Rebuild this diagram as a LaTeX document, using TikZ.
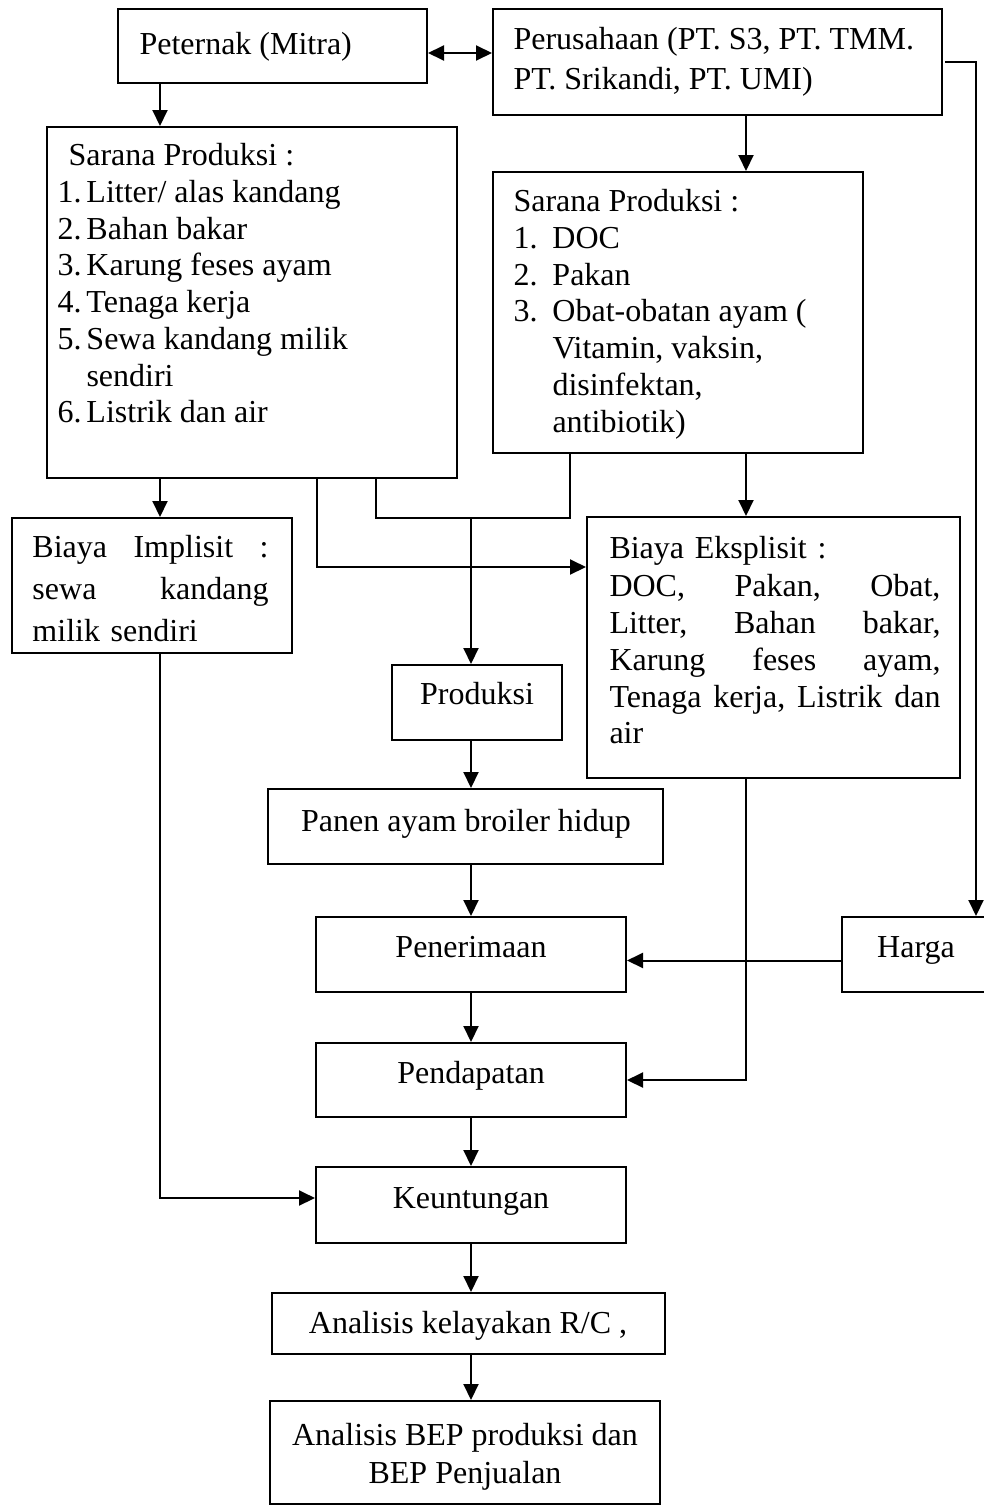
\documentclass[tikz,border=0pt]{standalone}
\usepackage{fontspec}
\setmainfont{Liberation Serif}
\usetikzlibrary{positioning,arrows.meta,fit,calc}

\newcommand{\numL}[1]{\makebox[11.6pt][l]{#1.}}
\newcommand{\numR}[1]{\makebox[15.6pt][l]{#1.}}

\begin{document}
\begin{tikzpicture}[
  x=0.4pt, y=-0.4pt,
  >={Triangle[length=6.4pt,width=6pt]},
  every node/.style={font=\fontsize{12.8}{14.7}\selectfont},
  box/.style={draw, line width=0.8pt, inner sep=0pt},
  txt/.style={inner sep=0pt, align=left},
  ln/.style={line width=0.8pt}
]
\useasboundingbox (0,0) rectangle (983,1506);

% boxes
\node[box, fit={(118,9) (427,83)}] (petr) {};
\node[box, fit={(493,9) (942,115)}] (prsh) {};
\node[box, fit={(47,127) (457,478)}] (sarL) {};
\node[box, fit={(493,172) (863,453)}] (sarR) {};
\node[box, fit={(12,518) (292,653)}] (bImp) {};
\node[box, fit={(587,517) (960,778)}] (bEks) {};
\node[box, fit={(392,665) (562,740)}] (prod) {};
\node[box, fit={(268,789) (663,864)}] (panen) {};
\node[box, fit={(316,917) (626,992)}] (terima) {};
\node[box, fit={(842,917) (992,992)}] (harga) {};
\node[box, fit={(316,1043) (626,1117)}] (dapat) {};
\node[box, fit={(316,1167) (626,1243)}] (untung) {};
\node[box, fit={(272,1293) (665,1354)}] (rc) {};
\node[box, fit={(270,1401) (660,1504)}] (bep) {};

% texts
\node[txt, anchor=base west] (petrT) at (139,54) {Peternak (Mitra)};
\node[txt, anchor=north west, font=\fontsize{12.8}{16}\selectfont] (prshT) at (513,27)
  {Perusahaan (PT. S3, PT. TMM.\\PT. Srikandi, PT. UMI)};
\node[txt, anchor=north west] (sarLT) at (57,143)
  {\hspace*{4.4pt}Sarana Produksi :\\
   \numL{1}Litter/ alas kandang\\
   \numL{2}Bahan bakar\\
   \numL{3}Karung feses ayam\\
   \numL{4}Tenaga kerja\\
   \numL{5}Sewa kandang milik\\
   \hspace*{11.6pt}sendiri\\
   \numL{6}Listrik dan air};
\node[txt, anchor=north west] (sarRT) at (513,189)
  {Sarana Produksi :\\
   \numR{1}DOC\\
   \numR{2}Pakan\\
   \numR{3}Obat-obatan ayam (\\
   \hspace*{15.6pt}Vitamin, vaksin,\\
   \hspace*{15.6pt}disinfektan,\\
   \hspace*{15.6pt}antibiotik)};
\node[txt, anchor=north west, text width=94.4pt, font=\fontsize{12.8}{16.8}\selectfont] (bImpT) at (32,535)
  {Biaya\hfill Implisit\hfill :\\sewa\hfill kandang\\milik sendiri};
\node[txt, anchor=north west, text width=132.4pt] (bEksT) at (609,536)
  {Biaya Eksplisit :\\[0.6pt]
   DOC,\hfill Pakan,\hfill Obat,\\
   Litter,\hfill Bahan\hfill bakar,\\
   Karung\hfill feses\hfill ayam,\\
   Tenaga\hfill kerja,\hfill Listrik\hfill dan\\
   air};
\node[txt, anchor=base] (prodT) at (477,704) {Produksi};
\node[txt, anchor=base] (panenT) at (466,831) {Panen ayam broiler hidup};
\node[txt, anchor=base] (terimaT) at (471,957) {Penerimaan};
\node[txt, anchor=base] (hargaT) at (916,957) {Harga};
\node[txt, anchor=base] (dapatT) at (471,1083) {Pendapatan};
\node[txt, anchor=base] (untungT) at (471,1208) {Keuntungan};
\node[txt, anchor=base] (rcT) at (468,1333) {Analisis kelayakan R/C ,};
\node[txt, anchor=north, align=center, font=\fontsize{12.8}{15.2}\selectfont] (bepT) at (465,1423)
  {Analisis BEP produksi dan\\BEP Penjualan};

% columns of the connectors
\coordinate (xL) at (160,0);
\coordinate (xA) at (317,0);
\coordinate (xB) at (376,0);
\coordinate (xM) at (471,0);
\coordinate (xC) at (570,0);
\coordinate (xR) at (746,0);
\coordinate (xE) at (976,0);
\coordinate (yJ) at (0,518);
\coordinate (yK) at (0,567);

% connectors
\draw[ln,<->] ($(petr.east)+(0,7)$) -- ($(prsh.west |- petr.east)+(0,7)$);
\draw[ln,->] (petr.south -| xL) -- (sarL.north -| xL);
\draw[ln,->] (sarL.south -| xL) -- (bImp.north -| xL);
\draw[ln,->] (sarL.south -| xA) |- (bEks.west |- yK);
\draw[ln] (sarL.south -| xB) |- (xC |- yJ) -- (sarR.south -| xC);
\draw[ln,->] (xM |- yJ) -- (prod.north -| xM);
\draw[ln,->] (prsh.south -| xR) -- (sarR.north -| xR);
\draw[ln,->] (sarR.south -| xR) -- (bEks.north -| xR);
\draw[ln,->] (prod.south -| xM) -- (panen.north -| xM);
\draw[ln,->] (panen.south -| xM) -- (terima.north -| xM);
\draw[ln,->] (terima.south -| xM) -- (dapat.north -| xM);
\draw[ln,->] (dapat.south -| xM) -- (untung.north -| xM);
\draw[ln,->] (untung.south -| xM) -- (rc.north -| xM);
\draw[ln,->] (rc.south -| xM) -- (bep.north -| xM);
\draw[ln,->] ($(harga.west)+(0,6)$) -- ($(terima.east)+(0,6)$);
\draw[ln,->] (bEks.south -| xR) |- (dapat.east);
\draw[ln,->] (bImp.south -| xL) |- ($(untung.west)+(0,-7)$);
\draw[ln,->] ($(prsh.east)+(2,0)$) -| (harga.north -| xE);
\end{tikzpicture}
\end{document}
